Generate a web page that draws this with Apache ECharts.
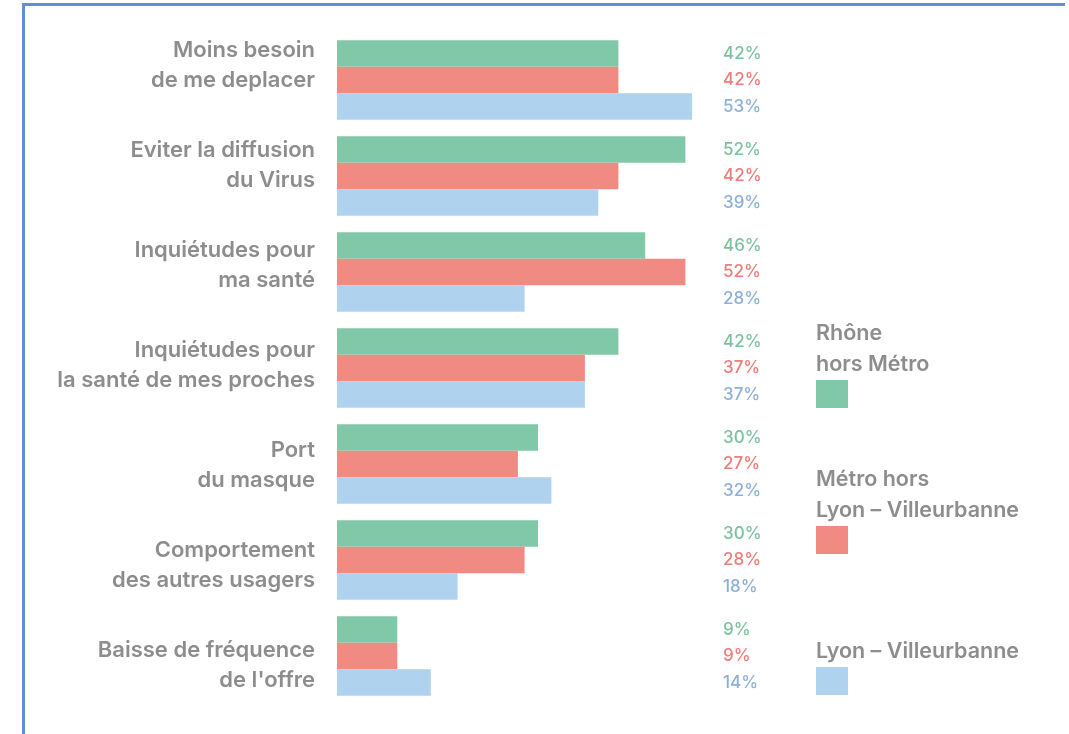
<!DOCTYPE html>
<html>
<head>
<meta charset="utf-8">
<script src="https://cdn.jsdelivr.net/npm/echarts@6/dist/echarts.min.js"></script>
<style>
  html, body { margin: 0; padding: 0; background: #fff; overflow: hidden; }
  #frame { position: absolute; left: 22px; top: 3px; width: 1040px; height: 740px;
           border-left: 3px solid #5b92cf; border-top: 3px solid #5b92cf; }
  #chart { position: absolute; left: 0; top: 0; width: 1069px; height: 734px; }
</style>
</head>
<body>
<div id="frame"></div>
<div id="chart"></div>
<script>
// Motifs de report (réponses en %)
const CATEGORIES = [
  'Moins besoin\nde me deplacer',
  'Eviter la diffusion\ndu Virus',
  'Inquiétudes pour\nma santé',
  'Inquiétudes pour\nla santé de mes proches',
  'Port\ndu masque',
  'Comportement\ndes autres usagers',
  'Baisse de fréquence\nde l\'offre'
];
const SERIES_NAMES = ['Rhône\nhors Métro', 'Métro hors\nLyon – Villeurbanne', 'Lyon – Villeurbanne'];
const RHONE = [42, 52, 46, 42, 30, 30, 9];
const METRO = [42, 42, 52, 37, 27, 28, 9];
const LYON = [53, 39, 28, 37, 32, 18, 14];

const BAR_COLORS = ['#80c8a8', '#f28a84', '#afd2ee'];
const LABEL_COLORS = ['#7dc29f', '#ea7e7b', '#8fb0d6'];
const FONT = 'Inter, "Noto Sans", sans-serif';

function makeSeries(name, data, i) {
  return {
    name: name,
    type: 'bar',
    data: data,
    barGap: '0%',
    barCategoryGap: '17%',
    itemStyle: { color: BAR_COLORS[i] },
    label: {
      show: true,
      position: 'insideLeft',
      distance: 386,
      formatter: '{c}%',
      color: LABEL_COLORS[i],
      fontFamily: FONT,
      fontSize: 17,
      fontWeight: 500
    },
    emphasis: { disabled: true }
  };
}

function legendBlock(y, text, color) {
  const lines = text.split('\n').length;
  return {
    type: 'group',
    left: 816,
    top: y,
    children: [
      {
        type: 'text',
        left: 0, top: 0,
        style: { text: text, fill: '#8d8d8d', font: '600 21.5px ' + FONT, lineHeight: 31 }
      },
      {
        type: 'rect',
        left: 0, top: lines * 31,
        shape: { width: 32, height: 28 },
        style: { fill: color }
      }
    ]
  };
}

const chart = echarts.init(document.getElementById('chart'));
chart.setOption({
  animation: false,
  // grid 0 holds the bars; grid 1 only carries the category texts,
  // which sit on a slightly wider pitch than the bars in the original
  grid: [
    { left: 337, right: 62, top: 32, height: 672 },
    { left: 337, right: 62, top: 15, height: 700 }
  ],
  xAxis: [
    { type: 'value', min: 0, max: 100, show: false, gridIndex: 0 },
    { type: 'value', min: 0, max: 100, show: false, gridIndex: 1 }
  ],
  yAxis: [
    {
      type: 'category', inverse: true, data: CATEGORIES, gridIndex: 0,
      axisLine: { show: false }, axisTick: { show: false }, axisLabel: { show: false }
    },
    {
      type: 'category', inverse: true, data: CATEGORIES, gridIndex: 1,
      axisLine: { show: false },
      axisTick: { show: false },
      axisLabel: {
        margin: 22,
        color: '#8d8d8d',
        fontFamily: FONT,
        fontSize: 22,
        fontWeight: 600,
        lineHeight: 30,
        align: 'right'
      }
    }
  ],
  series: [
    makeSeries(SERIES_NAMES[0], RHONE, 0),
    makeSeries(SERIES_NAMES[1], METRO, 1),
    makeSeries(SERIES_NAMES[2], LYON, 2)
  ],
  graphic: [
    legendBlock(318, SERIES_NAMES[0], BAR_COLORS[0]),
    legendBlock(464, SERIES_NAMES[1], BAR_COLORS[1]),
    legendBlock(636, SERIES_NAMES[2], BAR_COLORS[2])
  ]
});
window.addEventListener('resize', () => chart.resize());
</script>
</body>
</html>
